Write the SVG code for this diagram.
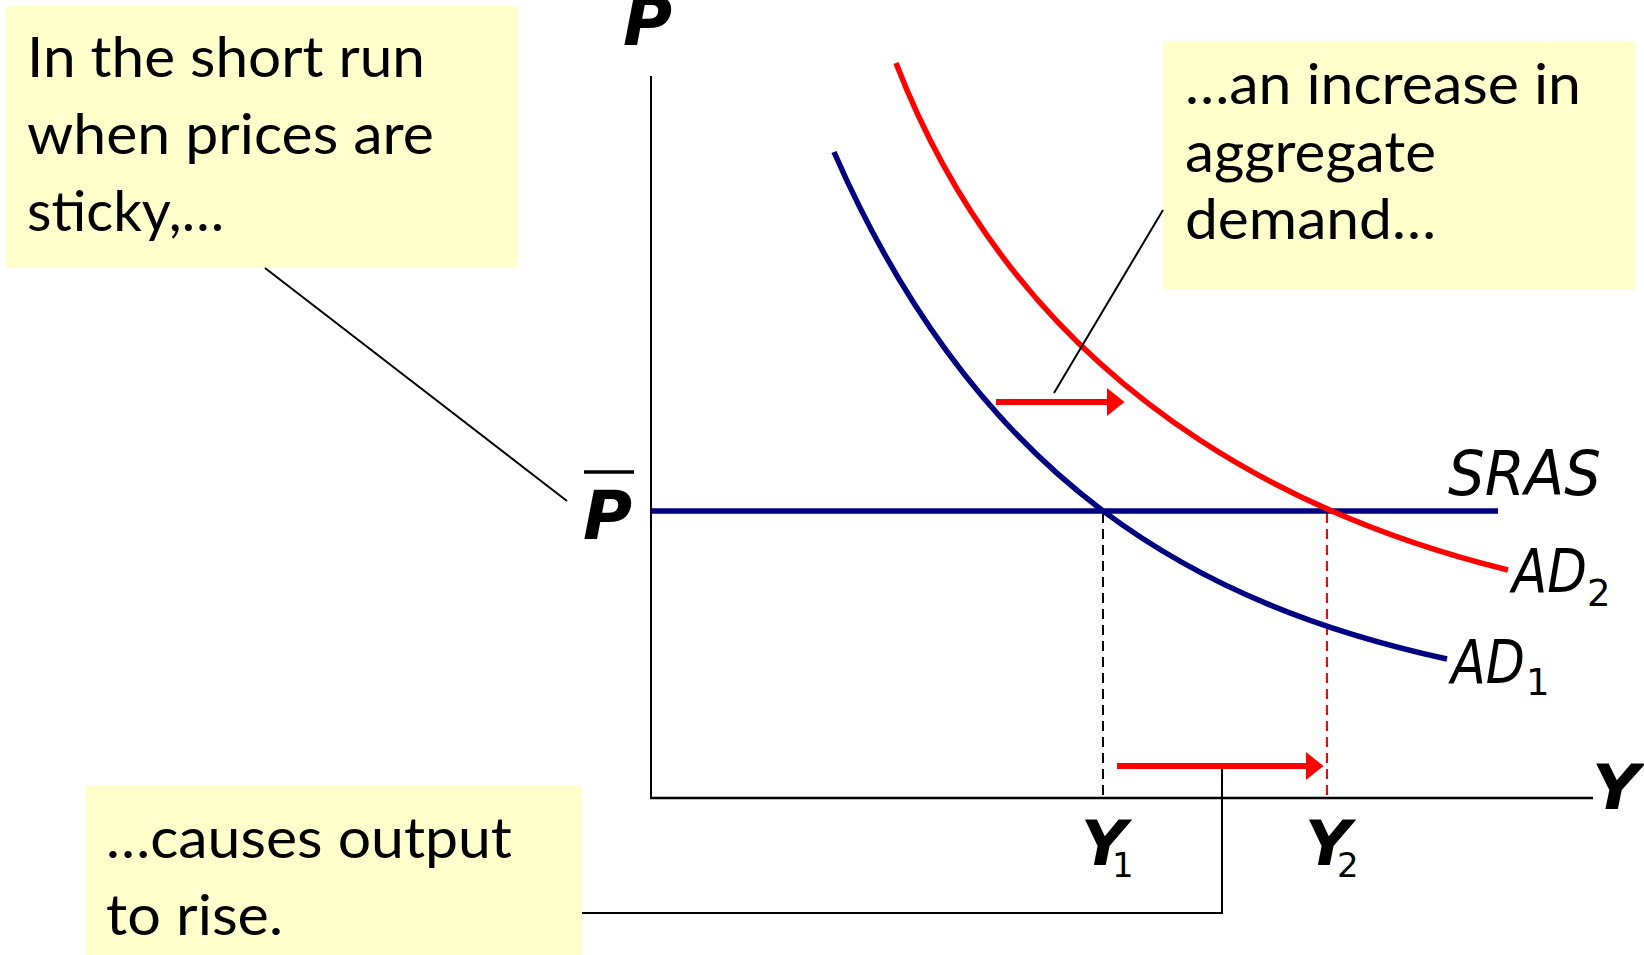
<svg xmlns="http://www.w3.org/2000/svg" width="1644" height="955" viewBox="0 0 1644 955">
<style>
.box{fill:#FFFFCC;}
.bt{font-family:Lato,"Open Sans",sans-serif;font-size:57px;fill:#000;}
.ax{stroke:#000;stroke-width:2;fill:none;}
.lead{stroke:#000;stroke-width:2;fill:none;}
.navy{stroke:#000080;stroke-width:5.5;fill:none;}
.red{stroke:#FF0000;stroke-width:5.5;fill:none;}
.dash{stroke-width:2;stroke-dasharray:10,6;fill:none;}
.shift{stroke:#FF0000;stroke-width:6;fill:none;}
.bi{font-family:"DejaVu Sans",Verdana,sans-serif;font-weight:bold;font-style:italic;fill:#000;}
.it{font-family:"DejaVu Sans",Verdana,sans-serif;font-style:italic;fill:#000;}
.sub{font-family:"DejaVu Sans",Verdana,sans-serif;fill:#000;}
</style>
<defs>
<marker id="ah" markerUnits="userSpaceOnUse" markerWidth="18" markerHeight="28" refX="0" refY="14" orient="auto" viewBox="0 0 18 28">
<path d="M0,0 L17.5,14 L0,28 Z" fill="#FF0000"/>
</marker>
</defs>
<rect width="1644" height="955" fill="#FFFFFF"/>

<g id="axes">
<line class="ax" x1="651" y1="76" x2="651" y2="799"/>
<line class="ax" x1="650" y1="798" x2="1593" y2="798" style="stroke-width:2.6"/>
<text class="bi" x="623" y="45" font-size="67">P</text>
<text class="bi" x="1592" y="809" font-size="63" textLength="48" lengthAdjust="spacingAndGlyphs">Y</text>
</g>

<g id="pbar">
<line x1="584" y1="472" x2="634" y2="472" stroke="#000" stroke-width="3.5"/>
<text class="bi" x="583" y="539" font-size="67">P</text>
</g>

<g id="guides">
<line class="dash" x1="1103" y1="513" x2="1103" y2="797" stroke="#000"/>
<line class="dash" x1="1327" y1="513" x2="1327" y2="797" stroke="#FF0000"/>
</g>

<g id="ad1">
<path class="navy" d="M834,152 C980,487 1201,605 1447,659"/>
<text class="it" x="1451" y="683" font-size="60" textLength="74" lengthAdjust="spacingAndGlyphs">AD</text>
<text class="sub" x="1526" y="695" font-size="37">1</text>
</g>

<g id="sras">
<line class="navy" x1="651" y1="511" x2="1498" y2="511"/>
<text class="it" x="1448" y="495" font-size="62" textLength="153" lengthAdjust="spacingAndGlyphs">SRAS</text>
</g>

<g id="ad2">
<path class="red" d="M896,63 C1037,429 1362,534 1508,570"/>
<text class="it" x="1512" y="592" font-size="60" textLength="75" lengthAdjust="spacingAndGlyphs">AD</text>
<text class="sub" x="1587" y="606" font-size="37">2</text>
</g>

<g id="y1">
<text class="bi" x="1081" y="865" font-size="62" textLength="46" lengthAdjust="spacingAndGlyphs">Y</text>
<text class="sub" x="1112" y="877" font-size="34">1</text>
</g>
<g id="y2">
<text class="bi" x="1305" y="865" font-size="62" textLength="46" lengthAdjust="spacingAndGlyphs">Y</text>
<text class="sub" x="1337" y="877" font-size="34">2</text>
</g>

<g id="box1">
<rect class="box" x="6" y="6" width="512" height="262"/>
<text class="bt" x="27" y="77" textLength="398" lengthAdjust="spacingAndGlyphs">In the short run</text>
<text class="bt" x="27" y="154" textLength="407" lengthAdjust="spacingAndGlyphs">when prices are</text>
<text class="bt" x="27" y="231" textLength="197" lengthAdjust="spacingAndGlyphs">sticky,…</text>
</g>

<g id="box2">
<rect class="box" x="1163" y="41" width="472" height="249"/>
<text class="bt" x="1185" y="104" textLength="396" lengthAdjust="spacingAndGlyphs">…an increase in</text>
<text class="bt" x="1185" y="172" textLength="251" lengthAdjust="spacingAndGlyphs">aggregate</text>
<text class="bt" x="1185" y="239" textLength="251" lengthAdjust="spacingAndGlyphs">demand…</text>
</g>

<g id="box3">
<rect class="box" x="86" y="786" width="496" height="169"/>
<text class="bt" x="106" y="858" textLength="406" lengthAdjust="spacingAndGlyphs">…causes output</text>
<text class="bt" x="106" y="935" textLength="177" lengthAdjust="spacingAndGlyphs">to rise.</text>
</g>

<g id="connectors">
<line class="lead" x1="265" y1="268" x2="567" y2="501"/>
<line class="lead" x1="1163" y1="210" x2="1054" y2="393"/>
<polyline class="lead" points="582,913 1222,913 1222,767"/>
<line class="shift" x1="996" y1="402" x2="1107" y2="402" marker-end="url(#ah)"/>
<line class="shift" x1="1117" y1="766" x2="1306" y2="766" marker-end="url(#ah)"/>
</g>
</svg>
